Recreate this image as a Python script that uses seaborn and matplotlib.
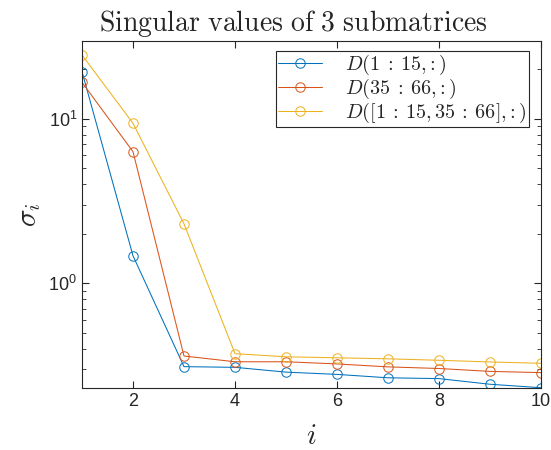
import matplotlib
matplotlib.use("Agg")
import matplotlib.pyplot as plt
import matplotlib.ticker as mticker
import numpy as np
import pandas as pd
import seaborn as sns

# Leading singular values of three row-subsets of D
index = list(range(1, 11))
sv_rows_1_15 = [19.4, 1.47, 0.311, 0.308, 0.288, 0.279, 0.266, 0.263, 0.243, 0.2315]
sv_rows_35_66 = [16.7, 6.32, 0.361, 0.333, 0.333, 0.323, 0.310, 0.303, 0.291, 0.286]
sv_rows_both = [24.5, 9.41, 2.30, 0.373, 0.357, 0.352, 0.347, 0.340, 0.332, 0.326]

labels = [r"$D(1\:{:}\:15{,}{:})$",
          r"$D(35\:{:}\:66{,}{:})$",
          r"$D([1\:{:}\:15{,}\,35\:{:}\:66]{,}{:})$"]
colors = ["#0072BD", "#D95319", "#EDB120"]
xticks = [2, 4, 6, 8, 10]

sns.set_theme(style="ticks")
plt.rcParams["font.family"] = ["Liberation Sans", "DejaVu Sans"]
plt.rcParams["mathtext.fontset"] = "cm"

fig = plt.figure(figsize=(5.51, 4.5), dpi=100)
ax = fig.add_axes([0.1488, 0.1378, 0.9819 - 0.1488, 0.9089 - 0.1378])

series = [sv_rows_1_15, sv_rows_35_66, sv_rows_both]
for vals, lab, col in zip(series, labels, colors):
    df = pd.DataFrame({"i": index, "sigma": vals})
    sns.lineplot(data=df, x="i", y="sigma", ax=ax, color=col, label=lab,
                 marker="o", markersize=6.8, markerfacecolor="none",
                 markeredgecolor=col, markeredgewidth=0.7, linewidth=0.75)

ax.set_yscale("log")
ax.set_xlim(1, 10)
ax.set_ylim(0.2306, 29.8)
ax.set_xticks(xticks)
ax.yaxis.set_major_locator(mticker.LogLocator(base=10, numticks=10))
ax.yaxis.set_minor_locator(mticker.LogLocator(base=10, subs=np.arange(2, 10), numticks=20))
ax.yaxis.set_minor_formatter(mticker.NullFormatter())

edge = "#262626"
for s in ax.spines.values():
    s.set_visible(True)
    s.set_color(edge)
    s.set_linewidth(0.8)
ax.tick_params(axis="both", which="both", direction="in", top=True, right=True,
               color=edge, labelcolor=edge, labelsize=13)
ax.tick_params(which="major", length=5, width=0.8)
ax.tick_params(which="minor", length=3, width=0.6)

ax.set_title(r"$\mathrm{Singular\ values\ of\ 3\ submatrices}$", fontsize=20,
             pad=7, x=0.461)
ax.set_xlabel(r"$i$", fontsize=21, labelpad=9)
ax.set_ylabel(r"$\sigma_i$", fontsize=21, labelpad=4)

leg = ax.legend(loc="upper right", bbox_to_anchor=(0.9739, 0.9712),
                fontsize=14.5, frameon=True, fancybox=False,
                edgecolor="#262626", framealpha=1, handlelength=2.2,
                borderpad=0.1, labelspacing=0.0, handletextpad=1.15,
                borderaxespad=0.0)
leg.get_frame().set_linewidth(0.8)

fig.savefig("out.png", dpi=100)
